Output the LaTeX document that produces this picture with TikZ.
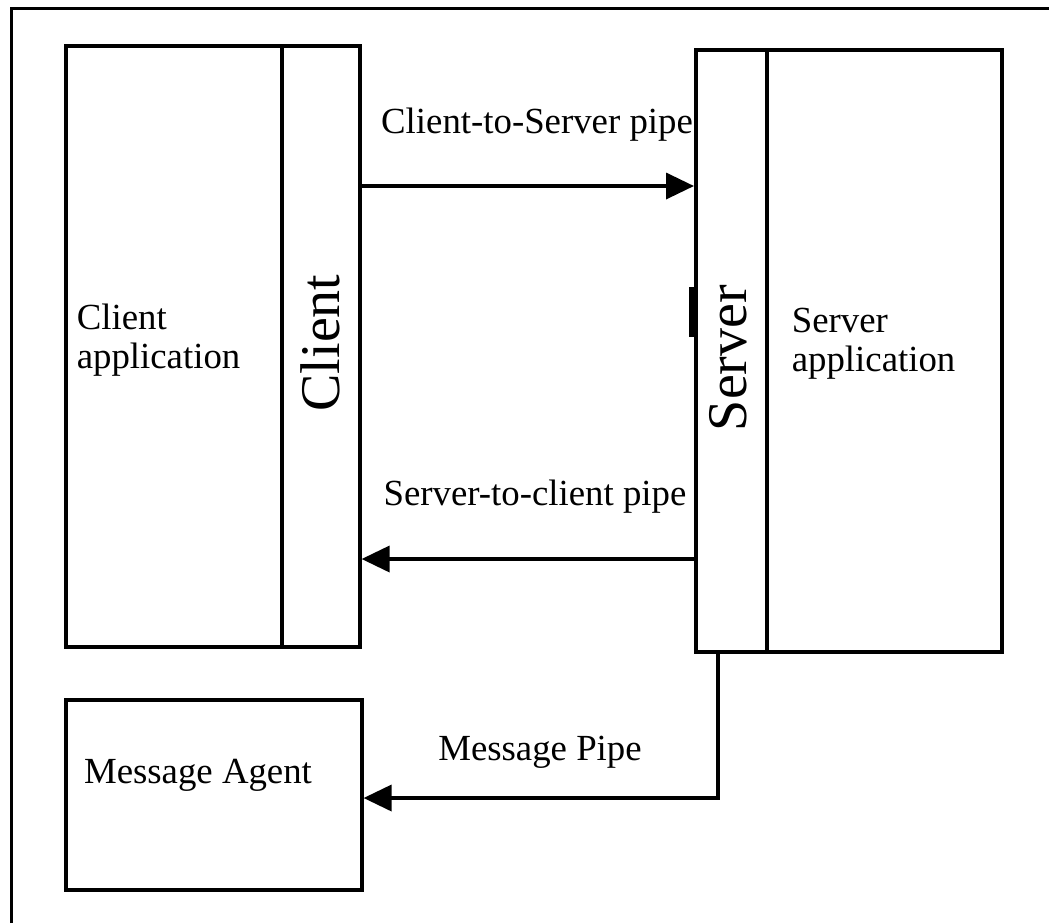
\documentclass[tikz,border=0pt]{standalone}
\usepackage{fontspec}
\setmainfont{Liberation Serif}
\usetikzlibrary{arrows.meta,positioning}

\begin{document}
\begin{tikzpicture}[x=0.5pt,y=-0.5pt,line width=1.8pt,>={Triangle[length=14pt,width=13pt]},
  box/.style={rectangle,draw,anchor=north west,inner sep=0pt},
  lbl/.style={font=\fontsize{18.4}{19.6}\selectfont,inner sep=0pt},
  big lbl/.style={font=\fontsize{28}{30}\selectfont,inner sep=0pt,rotate=90}]
  \useasboundingbox (0,0) rectangle (1049,923);
  % frame
  \draw[line width=1.5pt] (11,923) -- (11,8) -- (1049,8);

  \node[box, minimum width=108pt, minimum height=300.5pt] (1) at (64,44) {};
  \node[box, minimum width=39pt, minimum height=300.5pt] (2) at (280,44) {};
  \node[box, minimum width=35.5pt, minimum height=301pt] (3) at (694,48) {};
  \node[box, minimum width=117.5pt, minimum height=301pt] (4) at (765,48) {};
  \node[box, minimum width=148pt, minimum height=95pt] (5) at (64,698) {};

  \node[lbl, anchor=west, align=left] at (75,340) {Client\\application};
  \node[lbl, anchor=west, align=left] at (790,344) {Server\\application};
  \node[lbl] at (198,775) {Message Agent};
  \node[big lbl] at (320,343) {Client};
  \node[big lbl] at (728,358) {Server};

  % pipes
  \coordinate (p1) at (0,186);
  \coordinate (p2) at (0,559);
  \coordinate (p3) at (718,798);
  \draw[->] (2.east |- p1) -- (3.west |- p1);
  \draw[->] (3.west |- p2) -- (2.east |- p2);
  \draw[->] (3.south -| p3) -- (p3) -- (5.east |- p3);
  \draw[line width=2.5pt] (691,287) -- (691,337);

  \node[lbl] at (537,125) {Client-to-Server pipe};
  \node[lbl] at (535,497) {Server-to-client pipe};
  \node[lbl] at (540,752) {Message Pipe};
\end{tikzpicture}
\end{document}
